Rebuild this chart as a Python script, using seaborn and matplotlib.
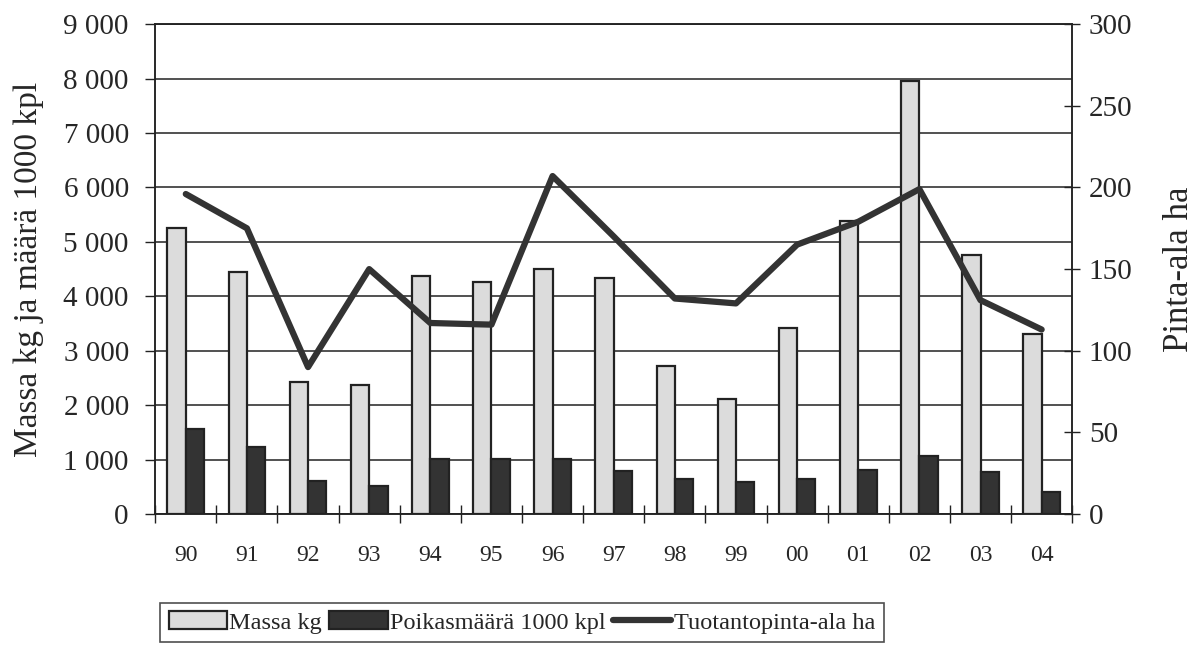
import numpy as np
import pandas as pd
import matplotlib.pyplot as plt
import seaborn as sns
from matplotlib.ticker import FuncFormatter, MultipleLocator, FixedLocator

# data
years = ["90", "91", "92", "93", "94", "95", "96", "97", "98", "99", "00", "01", "02", "03", "04"]
massa_kg = [5260, 4440, 2420, 2370, 4380, 4260, 4500, 4340, 2720, 2110, 3410, 5390, 7960, 4760, 3300]
poikas_1000 = [1570, 1240, 600, 510, 1010, 1010, 1020, 800, 640, 580, 640, 810, 1060, 780, 400]
pinta_ala_ha = [196, 175, 90, 150, 117, 116, 207, 170, 132, 129, 165, 179, 199, 131, 113]

lbl_massa = "Massa kg"
lbl_poikas = "Poikasmäärä 1000 kpl"
lbl_ala = "Tuotantopinta-ala ha"

sns.set_theme(style="white")
plt.rcParams["font.family"] = ["Liberation Serif", "DejaVu Serif"]

df = pd.DataFrame({"vuosi": years, lbl_massa: massa_kg, lbl_poikas: poikas_1000})
long = df.melt(id_vars="vuosi", var_name="sarja", value_name="arvo")
line_df = pd.DataFrame({"vuosi": years, "ala": pinta_ala_ha})

fig = plt.figure(figsize=(11.94, 6.54), dpi=100)
ax = fig.add_axes([0.13, 0.214, 0.768, 0.749])

sns.barplot(data=long, x="vuosi", y="arvo", hue="sarja", order=years,
            palette={lbl_massa: "#dcdcdc", lbl_poikas: "#333333"},
            width=0.6, edgecolor="#222222", linewidth=1.6, ax=ax,
            legend=True, zorder=3)
ax.set_ylim(0, 9000)
ax.set_xlim(-0.5, len(years) - 0.5)
ax.yaxis.set_major_locator(MultipleLocator(1000))
ax.yaxis.set_major_formatter(FuncFormatter(lambda v, p: f"{v:,.0f}".replace(",", " ")))
ax.grid(axis="y", color="#222222", linewidth=1.1, zorder=0)
ax.set_axisbelow(True)
ax.set_xlabel("")
ax.set_ylabel("Massa kg ja määrä 1000 kpl", fontsize=24, labelpad=14)
ax.tick_params(axis="y", which="major", labelsize=21, direction="out", length=7,
               width=1, color="#222222", left=True, pad=12)
ax.tick_params(axis="x", which="major", labelsize=17, length=0, pad=22)
ax.xaxis.set_minor_locator(FixedLocator(np.arange(-0.5, len(years), 1.0)))
ax.tick_params(axis="x", which="minor", direction="inout", length=13, width=1,
               color="#222222", bottom=True)
for s in ax.spines.values():
    s.set_color("#222222")
    s.set_linewidth(1.1)

handles, labels = ax.get_legend_handles_labels()
ax.get_legend().remove()

ax2 = ax.twinx()
sns.lineplot(data=line_df, x="vuosi", y="ala", color="#333333", linewidth=4.5,
             sort=False, ax=ax2, label=lbl_ala, legend=False)
ax2.set_ylim(0, 300)
ax2.set_xlim(-0.5, len(years) - 0.5)
ax2.yaxis.set_major_locator(MultipleLocator(50))
ax2.set_ylabel("Pinta-ala ha", fontsize=25, labelpad=22)
ax2.tick_params(axis="y", labelsize=21, direction="inout", length=12, width=1,
                color="#222222", right=True, pad=6)
ax2.grid(False)
for s in ax2.spines.values():
    s.set_color("#222222")
    s.set_linewidth(1.1)

h2, l2 = ax2.get_legend_handles_labels()
leg = fig.legend(handles + h2, labels + l2, loc="upper left",
                 bbox_to_anchor=(0.134, 0.078), ncol=3, fontsize=17.5,
                 frameon=True, fancybox=False, edgecolor="#222222",
                 handlelength=2.4, handletextpad=0.1, columnspacing=0.3,
                 borderpad=0.35, borderaxespad=0)
leg.get_frame().set_linewidth(1.2)

fig.savefig("out.png", dpi=100)
